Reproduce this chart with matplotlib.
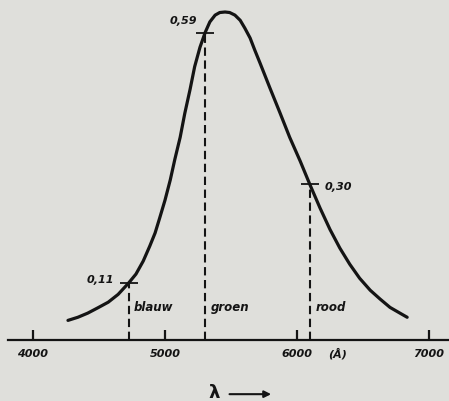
import matplotlib.pyplot as plt

# eye sensitivity curve (wavelength in Angstrom, relative value)
golflengte = [4265, 4340, 4415, 4490, 4570, 4645, 4725, 4780, 4835, 4885,
              4925, 4960, 5000, 5040, 5075, 5115, 5150, 5190, 5225, 5265,
              5305, 5340, 5380, 5415, 5455, 5490, 5530, 5570, 5605, 5645,
              5680, 5720, 5795, 5870, 5945, 6025, 6100, 6175, 6250, 6325,
              6400, 6475, 6555, 6630, 6705, 6780, 6835]
gevoeligheid = [0.038, 0.044, 0.052, 0.062, 0.073, 0.088, 0.110, 0.127, 0.152, 0.181,
                0.206, 0.235, 0.269, 0.308, 0.348, 0.390, 0.436, 0.482, 0.526, 0.563,
                0.592, 0.612, 0.625, 0.630, 0.631, 0.630, 0.625, 0.615, 0.600, 0.581,
                0.558, 0.533, 0.485, 0.438, 0.390, 0.344, 0.298, 0.254, 0.213, 0.177,
                0.146, 0.119, 0.096, 0.079, 0.063, 0.052, 0.044]

kleuren = ["blauw", "groen", "rood"]
kleur_lambda = [4725, 5305, 6100]
kleur_waarde = [0.11, 0.59, 0.30]
waarde_tekst = ["0,11", "0,59", "0,30"]

ticks = [4000, 5000, 6000, 7000]

bg = '#dfdfdb'
ink = '#141414'

fig = plt.figure(figsize=(4.49, 4.02), dpi=100, facecolor=bg)
ax = fig.add_axes([0, 0, 1, 1])
ax.set_facecolor(bg)
ax.set_xlim(3750, 7152)
ax.set_ylim(-0.117, 0.656)

ax.plot(golflengte, gevoeligheid, color=ink, lw=2.3, solid_joinstyle='round',
        solid_capstyle='round')

for lam, v in zip(kleur_lambda, kleur_waarde):
    ax.plot([lam, lam], [0, v], color=ink, lw=1.5, dashes=(4, 2.2))
    ax.plot([lam], [v], marker='_', ms=13, mew=1.3, color=ink)

txt = dict(color=ink, fontweight='bold', fontstyle='italic')
# value labels
ax.text(kleur_lambda[0] - 110, kleur_waarde[0] + 0.008, waarde_tekst[0], ha='right', va='center', fontsize=8, **txt)
ax.text(kleur_lambda[1] - 60, kleur_waarde[1] + 0.025, waarde_tekst[1], ha='right', va='center', fontsize=8, **txt)
ax.text(kleur_lambda[2] + 110, kleur_waarde[2] - 0.004, waarde_tekst[2], ha='left', va='center', fontsize=8, **txt)
# colour names next to the dashed lines
for lam, naam in zip(kleur_lambda, kleuren):
    ax.text(lam + 40, 0.065, naam, ha='left', va='center', fontsize=8.5, **txt)

# axis
for s in ['top', 'right', 'left']:
    ax.spines[s].set_visible(False)
ax.spines['bottom'].set_position(('data', 0))
ax.spines['bottom'].set_bounds(3810, 7152)
ax.spines['bottom'].set_linewidth(1.6)
ax.spines['bottom'].set_color(ink)
ax.set_xticks(ticks)
ax.set_xticklabels([str(t) for t in ticks])
ax.tick_params(axis='x', direction='in', length=7.5, width=1.6, color=ink, pad=6,
               labelsize=8, labelcolor=ink)
for lab in ax.get_xticklabels():
    lab.set_fontweight('bold')
    lab.set_fontstyle('italic')
ax.set_yticks([])

ax.text(6310, -0.025, "(Å)", ha='center', va='center', fontsize=8, **txt)

# lambda with a long arrow underneath the axis
ax.text(0.477, 0.022, "λ", transform=ax.transAxes, ha='center', va='center',
        fontsize=13, fontweight='bold', color=ink)
ax.annotate('', xy=(0.610, 0.017), xytext=(0.505, 0.017), xycoords='axes fraction',
            arrowprops=dict(arrowstyle='-|>', color=ink, lw=1.5, mutation_scale=10))

fig.savefig("out.png", dpi=100, facecolor=bg)
